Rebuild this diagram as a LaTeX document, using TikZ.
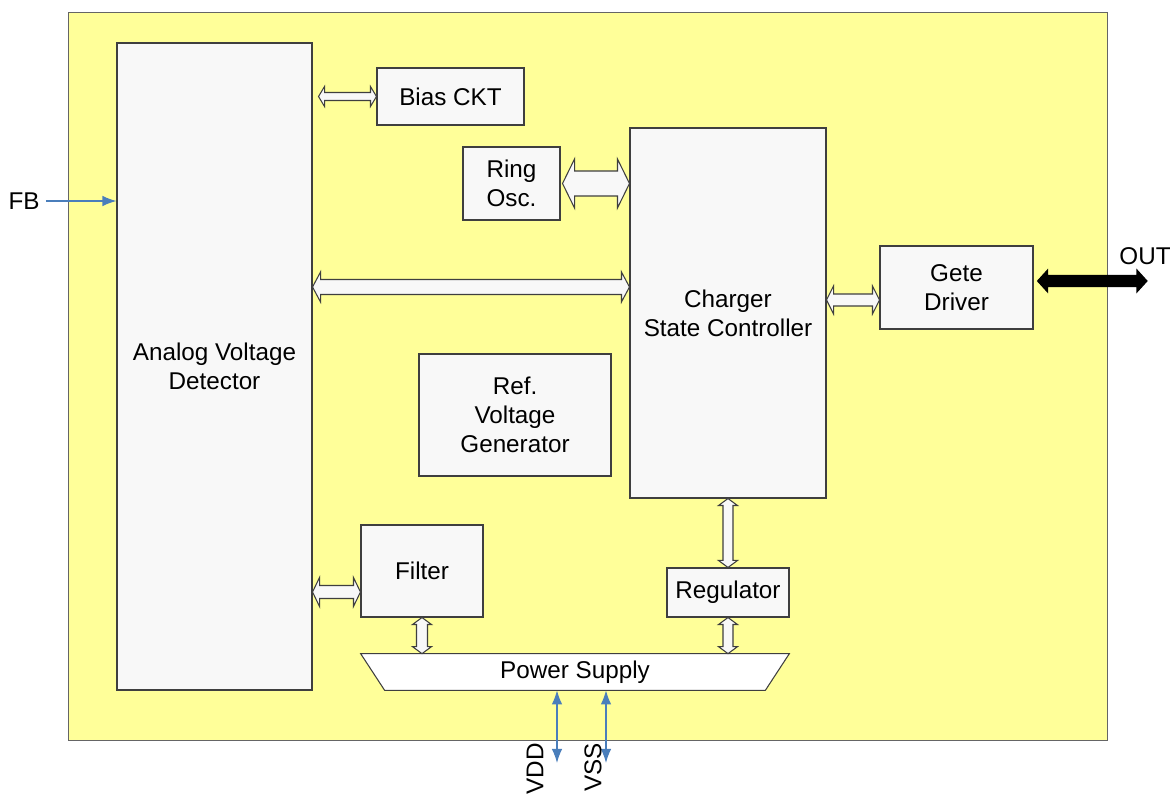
\documentclass[tikz,border=0pt]{standalone}
\usepackage{fontspec}
\setmainfont{Liberation Sans}
\usetikzlibrary{arrows.meta,calc,positioning}
\definecolor{chipyellow}{HTML}{FFFF99}
\definecolor{boxfill}{HTML}{F8F8F8}
\definecolor{boxline}{HTML}{3F3F3F}
\definecolor{pinblue}{HTML}{4A7EBB}

\tikzset{
  blk/.style={draw=boxline, fill=boxfill, line width=0.6pt, align=center,
    font=\fontsize{13.8}{16.4}\selectfont, inner sep=0pt},
  lbl/.style={font=\fontsize{13.8}{16.4}\selectfont, inner sep=0pt},
  pin/.style={pinblue, line width=0.7pt},
  bus/.style={draw=boxline, fill=boxfill, line width=0.6pt, line join=miter},
  outbus/.style={draw=black, fill=black, line width=0.6pt, line join=miter}
}

% hollow double-headed block arrow: [style]{from}{to}{shaft}{head}{head length}
\newcommand{\busarrow}[6][bus]{%
  \draw[#1] (#2) -- ($(#2)!#6!(#3)!#5!90:(#3)$) -- ($(#2)!#6!(#3)!#4!90:(#3)$)
    -- ($(#3)!#6!(#2)!#4!-90:(#2)$) -- ($(#3)!#6!(#2)!#5!-90:(#2)$) -- (#3)
    -- ($(#3)!#6!(#2)!#5!90:(#2)$) -- ($(#3)!#6!(#2)!#4!90:(#2)$)
    -- ($(#2)!#6!(#3)!#4!-90:(#3)$) -- ($(#2)!#6!(#3)!#5!-90:(#3)$) -- cycle;}

\begin{document}
\begin{tikzpicture}
  \useasboundingbox (0,0) rectangle (23.46,15.96);
  % Chip outline
  \fill[chipyellow] (1.36,1.16) rectangle (22.14,15.72);
  \draw[boxline!80, line width=0.5pt] (1.36,1.16) rectangle (22.14,15.72);

  % Blocks
  \node[blk, minimum width=3.9cm, minimum height=12.94cm] (avd) at (4.29,8.63) {Analog Voltage\\Detector};
  \node[blk, minimum width=2.94cm, minimum height=1.14cm] (bias) at (9.01,14.03) {Bias CKT};
  \node[blk, minimum width=1.94cm, minimum height=1.46cm] (ring) at (10.23,12.29) {Ring\\Osc.};
  \node[blk, minimum width=3.92cm, minimum height=7.4cm] (csc) at (14.56,9.70) {Charger\\State Controller};
  \node[blk, minimum width=3.06cm, minimum height=1.66cm] (gate) at (19.13,10.21) {Gete\\Driver};
  \node[blk, minimum width=3.84cm, minimum height=2.44cm] (ref) at (10.30,7.66) {Ref.\\Voltage\\Generator};
  \node[blk, minimum width=2.44cm, minimum height=1.84cm] (filter) at (8.44,4.54) {Filter};
  \node[blk, minimum width=2.44cm, minimum height=0.98cm] (reg) at (14.56,4.11) {Regulator};

  % Power supply
  \node[lbl, minimum width=8.56cm, minimum height=0.72cm] (ps) at (11.5,2.52) {};
  \draw[bus, fill=white] (ps.north west) -- (ps.north east) -- ($(ps.south east)+(-0.48,0)$)
    -- ($(ps.south west)+(0.48,0)$) -- cycle;
  \node[lbl] at (ps) {Power Supply};

  % Buses
  \coordinate (avd-bias) at ([xshift=0.12cm]avd.east |- bias.west);
  \busarrow{avd-bias}{bias.west}{0.08cm}{0.2cm}{0.12cm}
  \coordinate (ring-csc) at ([xshift=0.04cm]ring.east);
  \busarrow{ring-csc}{csc.west |- ring-csc}{0.25cm}{0.49cm}{0.24cm}
  \coordinate (avd-csc) at ($(avd.east)+(0,1.59)$);
  \busarrow{avd-csc}{csc.west |- avd-csc}{0.15cm}{0.3cm}{0.16cm}
  \coordinate (csc-gate) at ($(gate.west)+(0,-0.25)$);
  \busarrow{csc.east |- csc-gate}{csc-gate}{0.12cm}{0.28cm}{0.14cm}
  \coordinate (avd-filter) at ($(filter.west)+(0,-0.42)$);
  \busarrow{avd.east |- avd-filter}{avd-filter}{0.13cm}{0.29cm}{0.14cm}
  \busarrow{filter.south}{filter.south |- ps.north}{0.11cm}{0.19cm}{0.14cm}
  \busarrow{csc.south}{reg.north}{0.1cm}{0.19cm}{0.14cm}
  \busarrow{reg.south}{reg.south |- ps.north}{0.1cm}{0.19cm}{0.14cm}

  % Output
  \coordinate (gate-out) at ([xshift=0.08cm,yshift=0.13cm]gate.east);
  \coordinate (out) at (22.94,10.34);
  \busarrow[outbus]{gate-out}{out}{0.11cm}{0.22cm}{0.2cm}
  \node[lbl, anchor=east] (outl) at (23.42,10.84) {OUT};

  % Pins
  \node[lbl] (fbl) at (0.48,11.94) {FB};
  \draw[pin, -{Latex[length=8pt,width=6pt]}] ([xshift=0.12cm]fbl.east) -- (avd.west |- fbl);
  \coordinate (vdd) at (11.14,0.7);
  \coordinate (vss) at (12.12,0.7);
  \draw[pin, {Latex[length=8pt,width=6pt]}-{Latex[length=8pt,width=6pt]}] (vdd |- ps.south) -- (vdd);
  \draw[pin, {Latex[length=8pt,width=6pt]}-{Latex[length=8pt,width=6pt]}] (vss |- ps.south) -- (vss);
  \node[lbl, rotate=90, anchor=west] (vddl) at (10.70,0.06) {VDD};
  \node[lbl, rotate=90, anchor=west] (vssl) at (11.86,0.12) {VSS};
\end{tikzpicture}
\end{document}
